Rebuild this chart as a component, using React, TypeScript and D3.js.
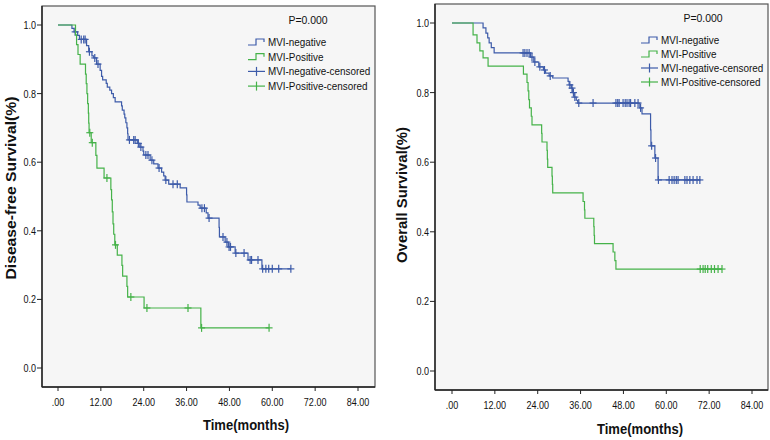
import React from 'react';
import * as d3 from 'd3';

// ---------- DATA ----------
const xTicks = [0, 12, 24, 36, 48, 60, 72, 84];
const xTickLabels = ['.00', '12.00', '24.00', '36.00', '48.00', '60.00', '72.00', '84.00'];
const yTicks = [0, 0.2, 0.4, 0.6, 0.8, 1.0];
const yTickLabels = ['0.0', '0.2', '0.4', '0.6', '0.8', '1.0'];
const legendLabels = ['MVI-negative', 'MVI-Positive', 'MVI-negative-censored', 'MVI-Positive-censored'];
const pValueLabel = 'P=0.000';
const xAxisTitle = 'Time(months)';
const dfsTitle = 'Disease-free Survival(%)';
const osTitle = 'Overall Survival(%)';

// Disease-free survival, MVI-negative
const dfsNegTimes = [3.9, 4.5, 5.5, 6.0, 8.0, 8.6, 9.5, 10.0, 10.8, 11.8, 12.2, 12.5, 13.5, 13.8, 14.5, 15.0, 15.5, 16.0, 17.8, 18.0, 18.5, 18.7, 19.0, 19.3, 19.5, 19.6, 22.2, 22.9, 23.8, 24.0, 25.8, 26.8, 28.0, 29.0, 29.6, 30.0, 31.0, 34.2, 36.0, 36.1, 39.2, 39.8, 41.5, 42.0, 45.1, 45.2, 46.8, 47.7, 49.6, 53.2, 57.1];
const dfsNegSurv = [0.99, 0.98, 0.97, 0.958, 0.94, 0.922, 0.91, 0.904, 0.886, 0.868, 0.85, 0.84, 0.83, 0.819, 0.81, 0.80, 0.788, 0.776, 0.764, 0.752, 0.74, 0.729, 0.715, 0.70, 0.683, 0.665, 0.655, 0.644, 0.632, 0.621, 0.606, 0.595, 0.583, 0.571, 0.56, 0.548, 0.536, 0.525, 0.505, 0.484, 0.475, 0.466, 0.452, 0.437, 0.41, 0.382, 0.367, 0.353, 0.335, 0.315, 0.289];
const dfsNegCensored = [4.8, 6.5, 7.2, 7.6, 8.8, 10.3, 11.2, 20.0, 21.2, 21.6, 22.5, 23.2, 24.6, 25.2, 26.3, 28.3, 30.2, 32.2, 33.4, 40.3, 41.0, 42.3, 46.2, 47.3, 47.9, 48.3, 49.8, 52.1, 53.8, 54.2, 56.0, 57.3, 58.2, 59.0, 60.0, 61.8, 65.2];

// Disease-free survival, MVI-positive
const dfsPosTimes = [4.9, 5.2, 5.6, 6.2, 7.7, 7.9, 8.1, 8.3, 8.5, 8.6, 8.7, 9.3, 10.6, 10.9, 12.9, 14.8, 15.0, 15.2, 15.4, 15.6, 15.9, 16.6, 17.9, 18.1, 19.3, 19.5, 24.1, 40.0];
const dfsPosSurv = [0.971, 0.943, 0.914, 0.886, 0.857, 0.829, 0.80, 0.771, 0.743, 0.714, 0.686, 0.657, 0.620, 0.583, 0.554, 0.52, 0.49, 0.455, 0.42, 0.39, 0.359, 0.329, 0.299, 0.268, 0.238, 0.207, 0.175, 0.117];
const dfsPosCensored = [8.9, 9.6, 13.7, 16.1, 20.4, 24.9, 36.4, 40.2, 59.1];

// Overall survival, MVI-negative
const osNegTimes = [8.7, 9.5, 10.0, 10.4, 11.0, 11.8, 22.0, 22.9, 24.3, 25.6, 26.2, 27.2, 28.2, 32.5, 32.8, 33.4, 33.8, 34.2, 34.8, 35.2, 52.6, 53.2, 55.6, 55.7, 56.8, 57.7];
const osNegSurv = [0.986, 0.971, 0.957, 0.943, 0.929, 0.914, 0.902, 0.888, 0.874, 0.865, 0.856, 0.848, 0.842, 0.832, 0.822, 0.813, 0.80, 0.787, 0.778, 0.770, 0.756, 0.739, 0.693, 0.647, 0.612, 0.549];
const osNegCensored = [19.9, 20.4, 21.0, 21.6, 22.4, 23.2, 24.6, 25.9, 27.5, 33.0, 33.6, 34.0, 34.4, 35.5, 39.5, 45.9, 46.4, 46.8, 47.9, 48.5, 49.0, 49.6, 50.0, 51.2, 52.1, 52.8, 55.9, 57.0, 57.8, 60.8, 61.6, 62.2, 62.8, 63.3, 65.2, 65.8, 66.6, 67.5, 68.6, 69.4];

// Overall survival, MVI-positive
const osPosTimes = [5.9, 7.0, 7.8, 8.7, 10.1, 20.0, 21.0, 21.3, 21.5, 21.7, 22.2, 22.4, 25.1, 25.2, 26.6, 26.7, 26.8, 28.0, 28.1, 28.2, 36.7, 37.1, 37.2, 39.7, 39.8, 39.9, 45.1, 45.6, 45.9];
const osPosSurv = [0.966, 0.943, 0.92, 0.90, 0.876, 0.853, 0.829, 0.805, 0.78, 0.756, 0.732, 0.707, 0.683, 0.658, 0.634, 0.609, 0.585, 0.56, 0.536, 0.512, 0.487, 0.463, 0.439, 0.415, 0.39, 0.366, 0.342, 0.317, 0.293];
const osPosCensored = [69.5, 70.3, 70.9, 71.6, 72.6, 73.5, 74.5, 75.6];

// ---------- STYLE ----------
const BLUE = '#3d5ba9';
const GREEN = '#45b249';
const FONT = '"Liberation Sans", Arial, sans-serif';

type Series = { times: number[]; surv: number[]; censored: number[]; color: string };

function survAt(times: number[], surv: number[], t: number) {
  let s = 1;
  for (let i = 0; i < times.length; i++) if (times[i] <= t + 1e-9) s = surv[i];
  return s;
}

function Txt(props: { x: number; y: number; size: number; sx?: number; anchor?: string; weight?: string; children: string }) {
  const { x, y, size, sx = 0.9, anchor = 'start', weight = 'normal', children } = props;
  return (
    <text
      transform={`translate(${x},${y}) scale(${sx},1)`}
      fontFamily={FONT}
      fontSize={size}
      fontWeight={weight}
      textAnchor={anchor}
      fill="#111"
    >
      {children}
    </text>
  );
}

type Layout = {
  x0: number; x1: number; y0: number; y1: number;
  xr: [number, number]; yr: [number, number];
  pX: number; pY: number;
  legX: number; legY: number; legStep: number;
  titleX: number; titleY: number;
  yTitleX: number; yTitleY: number; yTitleLen: number;
};

function Panel({ L, series, yTitle }: { L: Layout; series: Series[]; yTitle: string }) {
  const x = d3.scaleLinear().domain([0, 84]).range(L.xr);
  const y = d3.scaleLinear().domain([0, 1]).range(L.yr);
  const line = d3
    .line<[number, number]>()
    .x((d) => x(d[0]))
    .y((d) => y(d[1]))
    .curve(d3.curveStepAfter);

  return (
    <g>
      <rect x={L.x0} y={L.y0} width={L.x1 - L.x0} height={L.y1 - L.y0} fill="#f6f6f6" stroke="#555" strokeWidth={1.2} />
      <line x1={L.x0} x2={L.x0} y1={L.y0} y2={L.y1} stroke="#222" strokeWidth={1.4} />
      <line x1={L.x0} x2={L.x1} y1={L.y1} y2={L.y1} stroke="#222" strokeWidth={1.4} />
      {yTicks.map((t, i) => (
        <g key={'y' + i}>
          <line x1={L.x0 - 5} x2={L.x0} y1={y(t)} y2={y(t)} stroke="#222" />
          <Txt x={L.x0 - 6} y={y(t) + 4} size={11} sx={0.82} anchor="end">{yTickLabels[i]}</Txt>
        </g>
      ))}
      {xTicks.map((t, i) => (
        <g key={'x' + i}>
          <line x1={x(t)} x2={x(t)} y1={L.y1} y2={L.y1 + 4} stroke="#222" />
          <Txt x={x(t)} y={L.y1 + 19} size={11} sx={0.82} anchor="middle">{xTickLabels[i]}</Txt>
        </g>
      ))}
      {series.map((s, k) => {
        const end = Math.max(s.times[s.times.length - 1], ...s.censored);
        const pts: [number, number][] = [[0, 1], ...s.times.map((t, i) => [t, s.surv[i]] as [number, number]), [end, s.surv[s.surv.length - 1]]];
        return (
          <g key={'s' + k}>
            <path d={line(pts) || ''} fill="none" stroke={s.color} strokeWidth={1.2} />
            {s.censored.map((c, j) => {
              const cx = x(c);
              const cy = y(survAt(s.times, s.surv, c));
              return (
                <g key={j} stroke={s.color} strokeWidth={1.2}>
                  <line x1={cx} x2={cx} y1={cy - 4} y2={cy + 4} />
                  <line x1={cx - 3.5} x2={cx + 3.5} y1={cy} y2={cy} />
                </g>
              );
            })}
          </g>
        );
      })}
      <Txt x={L.pX} y={L.pY} size={11} sx={0.95} anchor="middle">{pValueLabel}</Txt>
      {legendLabels.map((lab, i) => {
        const cy = L.legY + i * L.legStep;
        const col = i % 2 === 0 ? BLUE : GREEN;
        const lx = L.legX;
        return (
          <g key={'l' + i}>
            {i < 2 ? (
              <path d={`M${lx},${cy + 3}H${lx + 8}V${cy - 3}H${lx + 16}V${cy}`} fill="none" stroke={col} strokeWidth={1.2} />
            ) : (
              <g stroke={col} strokeWidth={1.2}>
                <line x1={lx} x2={lx + 17} y1={cy} y2={cy} />
                <line x1={lx + 8.5} x2={lx + 8.5} y1={cy - 4.5} y2={cy + 4.5} />
              </g>
            )}
            <Txt x={lx + 20} y={cy + 4} size={11}>{lab}</Txt>
          </g>
        );
      })}
      <text x={L.titleX} y={L.titleY} fontFamily={FONT} fontSize={15} fontWeight="bold" textAnchor="middle" textLength={86} lengthAdjust="spacingAndGlyphs" fill="#111">
        {xAxisTitle}
      </text>
      <text
        transform={`translate(${L.yTitleX},${L.yTitleY}) rotate(-90)`}
        fontFamily={FONT}
        fontSize={14}
        fontWeight="bold"
        textAnchor="middle"
        textLength={L.yTitleLen}
        lengthAdjust="spacingAndGlyphs"
        fill="#111"
      >
        {yTitle}
      </text>
    </g>
  );
}

const leftLayout: Layout = {
  x0: 42, x1: 375, y0: 6, y1: 387,
  xr: [58, 358], yr: [368, 25],
  pX: 308, pY: 24,
  legX: 248, legY: 42, legStep: 14.7,
  titleX: 246, titleY: 430,
  yTitleX: 16, yTitleY: 188, yTitleLen: 183,
};

const rightLayout: Layout = {
  x0: 435, x1: 768, y0: 4, y1: 390,
  xr: [452, 752], yr: [371, 23],
  pX: 703, pY: 22,
  legX: 641, legY: 40, legStep: 14,
  titleX: 640, titleY: 434,
  yTitleX: 407, yTitleY: 195, yTitleLen: 136,
};

export default function App() {
  const dfs: Series[] = [
    { times: dfsNegTimes, surv: dfsNegSurv, censored: dfsNegCensored, color: BLUE },
    { times: dfsPosTimes, surv: dfsPosSurv, censored: dfsPosCensored, color: GREEN },
  ];
  const os: Series[] = [
    { times: osNegTimes, surv: osNegSurv, censored: osNegCensored, color: BLUE },
    { times: osPosTimes, surv: osPosSurv, censored: osPosCensored, color: GREEN },
  ];
  return (
    <svg width={770} height={440} style={{ position: 'absolute', left: 0, top: 0, background: '#fff' }}>
      <rect width={770} height={440} fill="#fff" />
      <Panel L={leftLayout} series={dfs} yTitle={dfsTitle} />
      <Panel L={rightLayout} series={os} yTitle={osTitle} />
    </svg>
  );
}
